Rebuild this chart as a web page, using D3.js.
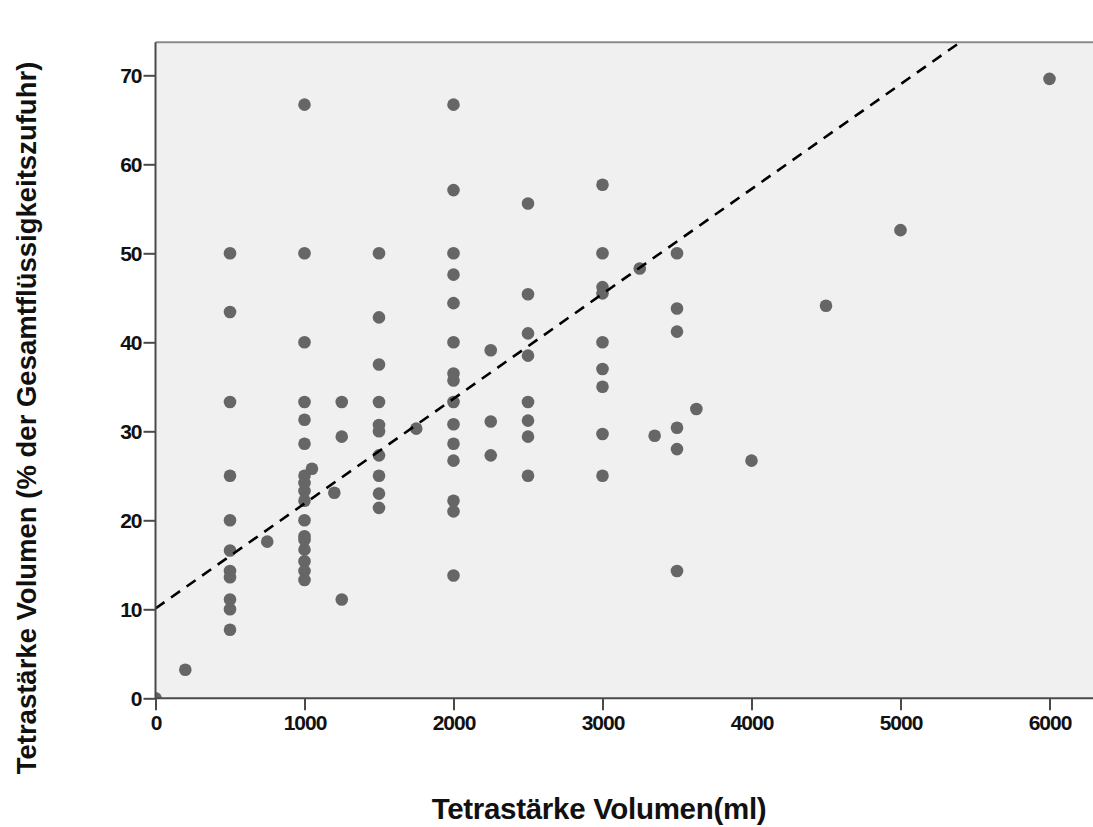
<!DOCTYPE html>
<html>
<head>
<meta charset="utf-8">
<script src="https://cdn.jsdelivr.net/npm/d3@7"></script>
<style>
  body { margin: 0; background: #fff; }
  svg { display: block; font-family: "Liberation Sans", Arial, sans-serif; }
</style>
</head>
<body>
<div id="chart"></div>
<script>
// volume groups (ml) and the % values seen at each volume
const volumes = [0, 200, 500, 750, 1000, 1050, 1200, 1250, 1500, 1750, 2000, 2250, 2500,
  3000, 3250, 3350, 3500, 3630, 4000, 4500, 5000, 6000];
const percents = [
  [0],
  [3.2],
  [50.0, 43.4, 33.3, 25.0, 20.0, 16.6, 14.3, 13.6, 11.1, 10.0, 7.7],
  [17.6],
  [66.7, 50.0, 40.0, 33.3, 31.3, 28.6, 25.0, 24.2, 23.3, 22.2, 20.0, 18.2, 17.8, 16.7, 15.4, 14.3, 13.3],
  [25.8],
  [23.1],
  [33.3, 29.4, 11.1],
  [50.0, 42.8, 37.5, 33.3, 30.7, 30.0, 27.3, 25.0, 23.0, 21.4],
  [30.3],
  [66.7, 57.1, 50.0, 47.6, 44.4, 40.0, 36.5, 35.7, 33.3, 30.8, 28.6, 26.7, 22.2, 21.0, 13.8],
  [39.1, 31.1, 27.3],
  [55.6, 45.4, 41.0, 38.5, 33.3, 31.2, 29.4, 25.0],
  [57.7, 50.0, 46.2, 45.5, 40.0, 37.0, 35.0, 29.7, 25.0],
  [48.3],
  [29.5],
  [50.0, 43.8, 41.2, 30.4, 28.0, 14.3],
  [32.5],
  [26.7],
  [44.1],
  [52.6],
  [69.6]
];

// linear fit (dashed line)
const fitIntercept = 10.1;
const fitSlope = 0.01178;

const xTicks = [0, 1000, 2000, 3000, 4000, 5000, 6000];
const yTicks = [0, 10, 20, 30, 40, 50, 60, 70];

const xTitle = "Tetrastärke Volumen(ml)";
const yTitle = "Tetrastärke Volumen (% der Gesamtflüssigkeitszufuhr)";

const width = 1093, height = 827;

const points = [];
volumes.forEach((v, i) => percents[i].forEach(p => points.push({ x: v, y: p })));

const x = d3.scaleLinear().domain([0, 6000]).range([155.5, 1049.5]);
const y = d3.scaleLinear().domain([0, 70]).range([698.3, 75.3]);

const plotLeft = x(0), plotRight = x(6320), plotTop = y(73.7), plotBottom = y(0);

const svg = d3.select("#chart")
  .append("svg")
  .attr("width", width)
  .attr("height", height);

svg.append("defs").append("clipPath")
  .attr("id", "plotclip")
  .append("rect")
  .attr("x", plotLeft)
  .attr("y", plotTop)
  .attr("width", plotRight - plotLeft)
  .attr("height", plotBottom - plotTop);

// plot background + top frame
svg.append("rect")
  .attr("x", plotLeft)
  .attr("y", plotTop)
  .attr("width", plotRight - plotLeft)
  .attr("height", plotBottom - plotTop)
  .style("fill", "#f0f0f0");

svg.append("line")
  .attr("x1", plotLeft).attr("x2", plotRight)
  .attr("y1", plotTop).attr("y2", plotTop)
  .style("stroke", "#8a8a8a")
  .style("stroke-width", 2);

const plot = svg.append("g").attr("clip-path", "url(#plotclip)");

plot.selectAll("circle")
  .data(points)
  .enter()
  .append("circle")
  .attr("cx", d => x(d.x))
  .attr("cy", d => y(d.y))
  .attr("r", 6.3)
  .style("fill", "#666666");

const line = d3.line()
  .x(d => x(d))
  .y(d => y(fitIntercept + fitSlope * d));

plot.append("path")
  .attr("d", line([0, 6320]))
  .style("fill", "none")
  .style("stroke", "#000")
  .style("stroke-width", 2.6)
  .style("stroke-dasharray", "11,8");

// axes
const xAxis = svg.append("g")
  .attr("transform", `translate(0,${plotBottom})`)
  .call(d3.axisBottom(x).tickValues(xTicks).tickFormat(d3.format("d"))
    .tickSize(12).tickSizeOuter(0).tickPadding(5));

const yAxis = svg.append("g")
  .attr("transform", `translate(${plotLeft},0)`)
  .call(d3.axisLeft(y).tickValues(yTicks).tickFormat(d3.format("d"))
    .tickSize(12).tickSizeOuter(0).tickPadding(2));

xAxis.select(".domain").attr("d", `M${plotLeft},0H${plotRight}`);
yAxis.select(".domain").attr("d", `M0,${plotTop}V${plotBottom}`);

[xAxis, yAxis].forEach(g => {
  g.select(".domain").style("stroke", "#4a4a4a").style("stroke-width", 2);
  g.selectAll(".tick line").style("stroke", "#4a4a4a").style("stroke-width", 2);
  g.selectAll(".tick text")
    .style("font-family", "'Liberation Sans', Arial, sans-serif")
    .style("font-size", "21px")
    .style("font-weight", "bold")
    .style("letter-spacing", "-1px")
    .style("fill", "#111");
});

// titles
svg.append("text")
  .attr("x", 599)
  .attr("y", 819)
  .text(xTitle)
  .style("text-anchor", "middle")
  .style("font-size", "29.5px")
  .style("font-weight", "bold")
  .style("letter-spacing", "-0.3px")
  .style("fill", "#111");

svg.append("text")
  .attr("transform", `translate(36,418) rotate(-90)`)
  .text(yTitle)
  .style("text-anchor", "middle")
  .style("font-size", "27.5px")
  .style("font-weight", "bold")
  .style("fill", "#111");
</script>
</body>
</html>
